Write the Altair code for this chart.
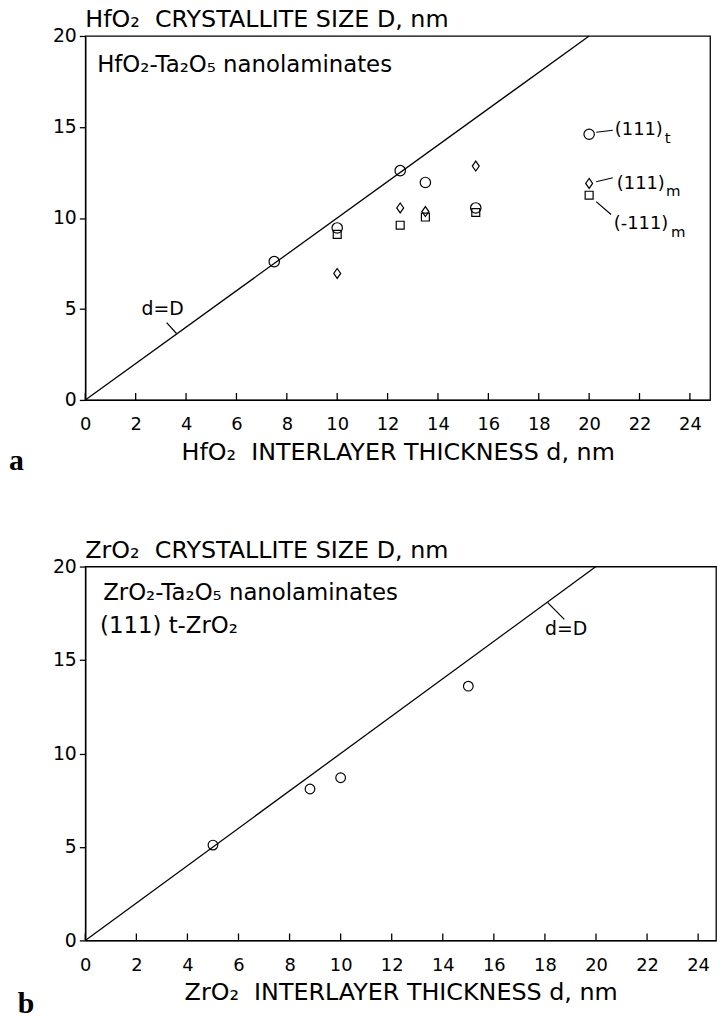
import altair as alt
import pandas as pd

FONT = "DejaVu Sans"
SP = "\u00a0 "  # double space that survives SVG whitespace collapsing

# ---------------- panel a data ----------------
a_t_x = [7.5, 10.0, 12.5, 13.5, 15.5, 20.0]
a_t_y = [7.6, 9.45, 12.6, 11.95, 10.55, 14.6]
a_m_x = [10.0, 12.5, 13.5, 15.5, 20.0]
a_m_y = [6.95, 10.55, 10.35, 12.85, 11.9]
a_s_x = [10.0, 12.5, 13.5, 15.5, 20.0]
a_s_y = [9.1, 9.6, 10.05, 10.3, 11.25]

# ---------------- panel b data ----------------
b_t_x = [5.0, 8.8, 10.0, 15.0]
b_t_y = [5.1, 8.1, 8.7, 13.6]

# d = D reference line
line_x = [0, 20]
line_y = [0, 20]

x_ticks = [0, 2, 4, 6, 8, 10, 12, 14, 16, 18, 20, 22, 24]
y_ticks = [0, 5, 10, 15, 20]

# annotations (data coordinates)
a_text = ["HfO₂-Ta₂O₅ nanolaminates", "d=D"]
a_text_x = [0.47, 3.07]
a_text_y = [18.4, 5.0]
a_text_size = [23, 19]
a_text_align = ["left", "center"]
a_lab = ["(111)", "(111)", "(-111)"]
a_lab_x = [21.02, 21.1, 20.98]
a_lab_y = [14.82, 11.88, 9.65]
a_sub = ["t", "m", "m"]
a_sub_x = [23.0, 23.05, 23.25]
a_sub_y = [14.4, 11.5, 9.2]
a_lead_x = [3.23, 20.28, 20.28, 20.28]
a_lead_y = [4.25, 14.71, 11.99, 10.9]
a_lead_x2 = [3.62, 20.94, 20.94, 20.87]
a_lead_y2 = [3.65, 14.82, 12.21, 10.19]

b_text = ["ZrO₂-Ta₂O₅ nanolaminates", "(111) t-ZrO₂", "d=D"]
b_text_x = [0.7, 0.58, 18.83]
b_text_y = [18.6, 16.8, 16.64]
b_text_size = [23, 23, 19]
b_text_align = ["left", "left", "center"]
b_lead_x = [18.1]
b_lead_y = [18.08]
b_lead_x2 = [18.76]
b_lead_y2 = [17.17]

DIAMOND = "M0,-1L0.7,0L0,1L-0.7,0Z"


def panel(W, H, xmax, title, xtitle, pts, texts, labs, subs, leads, letter, letter_dx, letter_dy):
    xs = alt.Scale(domain=[0, xmax], nice=False)
    ys = alt.Scale(domain=[0, 20], nice=False)
    xaxis = alt.Axis(values=x_ticks, ticks=False, grid=False, labelFont=FONT,
                     labelFontSize=18, labelColor="black", labelPadding=16,
                     domainColor="black", domainWidth=1.3, title=xtitle,
                     titleFont=FONT, titleFontSize=24, titleFontWeight="normal",
                     titleColor="black", titlePadding=7, labelFlush=False)
    yaxis = alt.Axis(values=y_ticks, tickSize=6, tickColor="black", tickWidth=1.3,
                     grid=False, labelFont=FONT, labelFontSize=19, labelColor="black",
                     labelPadding=3, domainColor="black", domainWidth=1.3, title=None,
                     labelFlush=False)

    def X(f):
        return alt.X(f, type="quantitative", scale=xs, axis=xaxis)

    def Y(f):
        return alt.Y(f, type="quantitative", scale=ys, axis=yaxis)

    layers = []
    ldf = pd.DataFrame({"x": line_x, "y": line_y})
    layers.append(alt.Chart(ldf).mark_line(color="black", strokeWidth=1.3).encode(x=X("x"), y=Y("y")))
    for (px, py, shape, size) in pts:
        df = pd.DataFrame({"x": px, "y": py})
        layers.append(alt.Chart(df).mark_point(shape=shape, size=size, filled=False,
                                               color="black", strokeWidth=1.2, opacity=1)
                      .encode(x=X("x"), y=Y("y")))
    tdf = pd.DataFrame({"v": x_ticks})
    layers.append(alt.Chart(tdf).mark_rule(color="black", strokeWidth=1.3)
                  .encode(x=X("v"), y=alt.value(H), y2=alt.value(H - 7)))
    lx, ly, lx2, ly2 = leads
    lead_df = pd.DataFrame({"x": lx, "y": ly, "x2": lx2, "y2": ly2})
    layers.append(alt.Chart(lead_df).mark_rule(color="black", strokeWidth=1.2)
                  .encode(x=X("x"), y=Y("y"), x2="x2", y2="y2"))
    tt, tx, ty, tsz, ta = texts
    for t, a, b, sz, al in zip(tt, tx, ty, tsz, ta):
        df = pd.DataFrame({"t": [t], "x": [a], "y": [b]})
        layers.append(alt.Chart(df).mark_text(align=al, baseline="middle", font=FONT,
                                              fontSize=sz, color="black")
                      .encode(x=X("x"), y=Y("y"), text="t:N"))
    if labs is not None:
        lt, lxx, lyy = labs
        df = pd.DataFrame({"t": lt, "x": lxx, "y": lyy})
        layers.append(alt.Chart(df).mark_text(align="left", baseline="middle", font=FONT,
                                              fontSize=18, color="black")
                      .encode(x=X("x"), y=Y("y"), text="t:N"))
    if subs is not None:
        st, sx, sy = subs
        df = pd.DataFrame({"t": st, "x": sx, "y": sy})
        layers.append(alt.Chart(df).mark_text(align="left", baseline="middle", font=FONT,
                                              fontSize=15, color="black")
                      .encode(x=X("x"), y=Y("y"), text="t:N"))
    layers.append(alt.Chart(alt.Data(values=[{"t": letter}])).mark_text(
        align="left", baseline="middle", font="Liberation Serif", fontWeight="bold",
        fontSize=30, color="black").encode(text="t:N", x=alt.value(letter_dx), y=alt.value(letter_dy)))

    return alt.layer(*layers).properties(
        width=W, height=H,
        title=alt.TitleParams(text=title, anchor="start", frame="group", font=FONT,
                              fontSize=24, fontWeight="normal", color="black", offset=-5),
    )


pa = panel(630, 367, 24.8, "HfO₂" + SP + "CRYSTALLITE SIZE D, nm",
           "HfO₂" + SP + "INTERLAYER THICKNESS d, nm",
           [(a_t_x, a_t_y, "circle", 110), (a_m_x, a_m_y, DIAMOND, 100), (a_s_x, a_s_y, "square", 64)],
           (a_text, a_text_x, a_text_y, a_text_size, a_text_align),
           (a_lab, a_lab_x, a_lab_y), (a_sub, a_sub_x, a_sub_y),
           (a_lead_x, a_lead_y, a_lead_x2, a_lead_y2), "a", -77, 367 + 62)

pb = panel(636, 377, 24.7, "ZrO₂" + SP + "CRYSTALLITE SIZE D, nm",
           "ZrO₂" + SP + "INTERLAYER THICKNESS d, nm",
           [(b_t_x, b_t_y, "circle", 95)],
           (b_text, b_text_x, b_text_y, b_text_size, b_text_align), None, None,
           (b_lead_x, b_lead_y, b_lead_x2, b_lead_y2), "b", -68, 377 + 64)

chart = alt.vconcat(pa, pb, spacing=61).properties(
    padding={"left": 8, "top": 3, "right": 0, "bottom": 0},
    background="white",
).configure_view(stroke="black", strokeWidth=1.3)

chart.save("out.html", embed_options={"renderer": "svg", "actions": False})
